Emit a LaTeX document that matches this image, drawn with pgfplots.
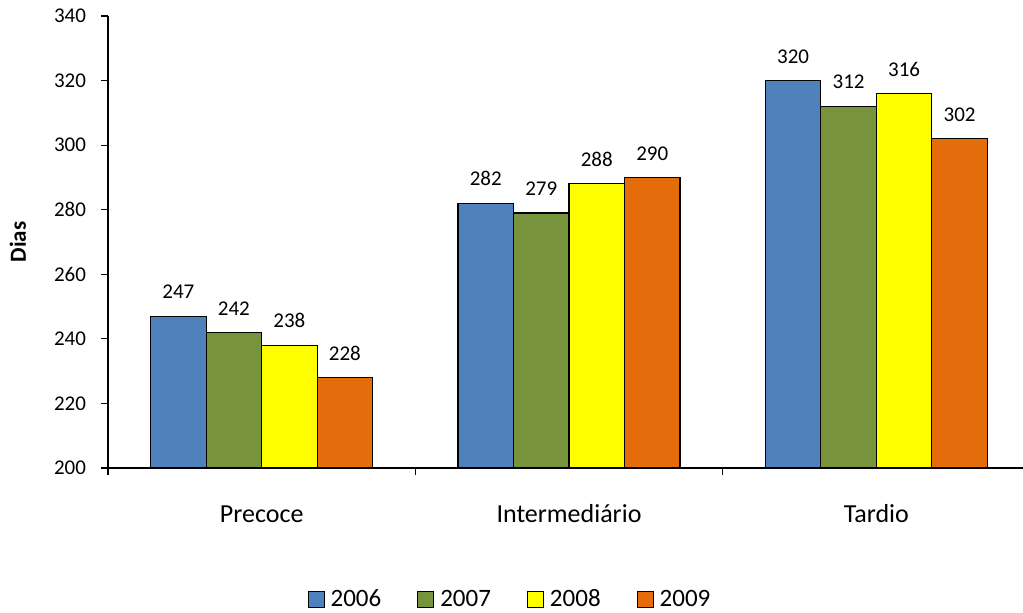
\documentclass[border=0pt]{standalone}
\usepackage{pgfplots}
\pgfplotsset{compat=1.18}
\usepackage{fontspec}
\setmainfont{Carlito}

\definecolor{c2006}{HTML}{4F81BD}
\definecolor{c2007}{HTML}{77933C}
\definecolor{c2008}{HTML}{FFFF00}
\definecolor{c2009}{HTML}{E46C0A}

\begin{document}
\begin{tikzpicture}
\useasboundingbox (0,0) rectangle (511.5pt,306pt);
\begin{axis}[
  at={(54pt,72pt)}, anchor=south west,
  scale only axis,
  width=461pt, height=226pt,
  ybar=0pt, bar width=27.75pt,
  xmin=-0.5, xmax=2.5,
  ymin=200, ymax=340,
  ytick={200,220,...,340},
  % group separators carry the tick marks
  xtick={-0.5,0.5,1.5,2.5},
  xticklabels={},
  % category names sit at the group centres, without marks
  extra x ticks={0,1,2},
  extra x tick labels={Precoce,Intermediário,Tardio},
  extra x tick style={major tick length=0pt,
    xticklabel style={font=\fontsize{13pt}{15pt}\selectfont, yshift=-17pt, text height=1.4ex, text depth=0.3ex}},
  tick style={black, line width=0.6pt},
  major tick length=3.5pt,
  tick align=outside,
  axis x line*=bottom, axis y line*=left,
  axis line style={black, line width=0.7pt},
  x axis line style={-}, y axis line style={-},
  ylabel={\bfseries Dias},
  ylabel style={font=\fontsize{11.5pt}{13pt}\selectfont, at={(axis description cs:-0.0976,0.5)}, anchor=center},
  every y tick label/.style={font=\fontsize{10.5pt}{12pt}\selectfont},
  yticklabel style={xshift=-4pt},
  /pgf/number format/assume math mode=true,
  nodes near coords,
  every node near coord/.append style={font=\fontsize{10.5pt}{12pt}\selectfont, yshift=5pt, text=black},
  legend style={at={(rel axis cs:0.436,-0.292)}, anchor=center, draw=none,
    legend columns=4, font=\fontsize{12.5pt}{14pt}\selectfont,
    nodes={text height=1.5ex, text depth=0.2ex, inner sep=1pt},
    /tikz/every odd column/.append style={column sep=2pt},
    /tikz/every even column/.append style={column sep=17pt}},
  legend image code/.code={\draw[#1, line width=0.5pt] (0pt,-4pt) rectangle (8pt,4pt);},
  enlargelimits=false,
  clip=false,
]
\addplot[fill=c2006, draw=black, line width=0.6pt] coordinates {(0,247) (1,282) (2,320)};
\addplot[fill=c2007, draw=black, line width=0.6pt] coordinates {(0,242) (1,279) (2,312)};
\addplot[fill=c2008, draw=black, line width=0.6pt] coordinates {(0,238) (1,288) (2,316)};
\addplot[fill=c2009, draw=black, line width=0.6pt] coordinates {(0,228) (1,290) (2,302)};
\legend{2006,2007,2008,2009}
\end{axis}
\end{tikzpicture}
\end{document}
